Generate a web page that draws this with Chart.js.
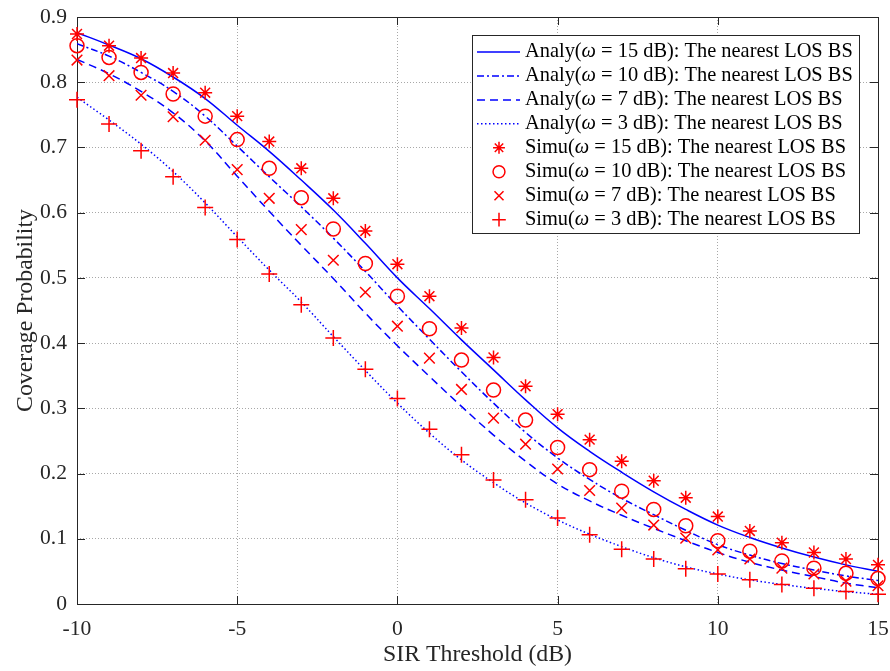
<!DOCTYPE html>
<html><head><meta charset="utf-8">
<script src="https://cdn.jsdelivr.net/npm/chart.js@4.4.0/dist/chart.umd.min.js"></script>
<style>html,body{margin:0;padding:0;background:#fff;}#wrap{width:890px;height:671px;}</style>
</head><body><div id="wrap"><canvas id="c" width="890" height="671"></canvas></div>
<script>
// ---------------- data ----------------
const sirThreshold = [-10,-9,-8,-7,-6,-5,-4,-3,-2,-1,0,1,2,3,4,5,6,7,8,9,10,11,12,13,14,15];
const analy15 = [0.876,0.857,0.836,0.808,0.775,0.734,0.694,0.650,0.604,0.553,0.500,0.453,0.405,0.359,0.313,0.270,0.234,0.202,0.172,0.145,0.121,0.102,0.086,0.072,0.060,0.050];
const analy10 = [0.859,0.840,0.815,0.786,0.748,0.702,0.655,0.609,0.561,0.510,0.457,0.406,0.356,0.308,0.263,0.224,0.191,0.162,0.137,0.113,0.091,0.075,0.062,0.052,0.043,0.036];
const analy7  = [0.835,0.813,0.786,0.753,0.710,0.656,0.602,0.550,0.499,0.446,0.396,0.349,0.303,0.259,0.219,0.184,0.158,0.136,0.116,0.097,0.079,0.064,0.052,0.042,0.032,0.025];
const analy3  = [0.777,0.742,0.705,0.663,0.615,0.563,0.512,0.463,0.410,0.358,0.308,0.262,0.221,0.186,0.155,0.129,0.107,0.088,0.071,0.057,0.046,0.037,0.030,0.024,0.019,0.015];
const simu15 = [0.874,0.856,0.837,0.814,0.784,0.748,0.709,0.668,0.622,0.572,0.521,0.472,0.423,0.378,0.334,0.291,0.252,0.219,0.189,0.163,0.134,0.112,0.094,0.079,0.069,0.060];
const simu10 = [0.856,0.838,0.815,0.782,0.748,0.712,0.668,0.623,0.575,0.522,0.472,0.422,0.374,0.328,0.282,0.240,0.206,0.173,0.145,0.120,0.097,0.081,0.066,0.055,0.047,0.039];
const simu7  = [0.834,0.810,0.780,0.747,0.711,0.666,0.622,0.574,0.527,0.478,0.426,0.377,0.329,0.285,0.245,0.207,0.174,0.147,0.121,0.101,0.083,0.069,0.055,0.046,0.035,0.028];
const simu3  = [0.773,0.736,0.695,0.655,0.608,0.559,0.506,0.459,0.408,0.360,0.315,0.268,0.229,0.190,0.160,0.132,0.106,0.084,0.069,0.054,0.046,0.037,0.030,0.024,0.019,0.015];
const xTickValues = [-10,-5,0,5,10,15];
const yTickValues = [0,0.1,0.2,0.3,0.4,0.5,0.6,0.7,0.8,0.9];
const seriesLabels = [
  'Analy(ω = 15 dB): The nearest LOS BS',
  'Analy(ω = 10 dB): The nearest LOS BS',
  'Analy(ω = 7 dB): The nearest LOS BS',
  'Analy(ω = 3 dB): The nearest LOS BS',
  'Simu(ω = 15 dB): The nearest LOS BS',
  'Simu(ω = 10 dB): The nearest LOS BS',
  'Simu(ω = 7 dB): The nearest LOS BS',
  'Simu(ω = 3 dB): The nearest LOS BS'
];
const xTitle = 'SIR Threshold (dB)';
const yTitle = 'Coverage Probability';

// ---------------- styling ----------------
const FONT = "'Liberation Serif','Times New Roman',serif";
const BLUE = '#0000ff', RED = '#ff0000', AX = '#262626';
const pts = ys => sirThreshold.map((x, i) => ({x: x, y: ys[i]}));

const mctx = document.createElement('canvas').getContext('2d');
function fitSize(text, target) { mctx.font = '100px ' + FONT; return 100 * target / mctx.measureText(text).width; }
const tickSize = Math.min(22, fitSize('0.9', 27));
const titleSize = fitSize(yTitle, 203);
const legendSize = fitSize('Analy(ω = 15 dB): The nearest LOS BS', 327);

function lineDS(label, ys, dash) {
  return {label, data: pts(ys), showLine: true, borderColor: BLUE, borderWidth: 1.5, borderDash: dash,
    pointRadius: 0, pointHoverRadius: 0, fill: false, tension: 0.4, order: 2, kind: 'line'};
}
function markDS(label, ys, style, r) {
  return {label, data: pts(ys), showLine: false, pointStyle: style, pointRadius: r, pointHoverRadius: r,
    pointBorderColor: RED, pointBackgroundColor: 'rgba(0,0,0,0)', pointBorderWidth: 1.5, clip: false, order: 1, kind: 'mark'};
}

const datasets = [
  lineDS(seriesLabels[0], analy15, []),
  lineDS(seriesLabels[1], analy10, [7,3,2,3]),
  lineDS(seriesLabels[2], analy7, [8,5]),
  lineDS(seriesLabels[3], analy3, [1.5,2.5]),
  markDS(seriesLabels[4], simu15, 'star', 7),
  markDS(seriesLabels[5], simu10, 'circle', 7),
  markDS(seriesLabels[6], simu7, 'crossRot', 7.5),
  markDS(seriesLabels[7], simu3, 'cross', 8)
];

const frameTicks = {
  id: 'frameTicks',
  beforeDatasetsDraw(chart) {
    const {ctx, chartArea: a, scales} = chart;
    ctx.save();
    ctx.strokeStyle = AX; ctx.lineWidth = 1;
    ctx.beginPath();
    const T = 8;
    xTickValues.forEach(v => {
      const x = Math.round(scales.x.getPixelForValue(v)) + 0.5;
      ctx.moveTo(x, a.bottom); ctx.lineTo(x, a.bottom - T);
      ctx.moveTo(x, a.top); ctx.lineTo(x, a.top + T);
    });
    yTickValues.forEach(v => {
      const y = Math.round(scales.y.getPixelForValue(v)) + 0.5;
      ctx.moveTo(a.left, y); ctx.lineTo(a.left + T, y);
      ctx.moveTo(a.right, y); ctx.lineTo(a.right - T, y);
    });
    ctx.stroke();
    ctx.strokeRect(Math.round(a.left) + 0.5, Math.round(a.top) + 0.5, Math.round(a.right - a.left), Math.round(a.bottom - a.top));
    ctx.restore();
  }
};

const matlabLegend = {
  id: 'matlabLegend',
  afterDraw(chart) {
    const ctx = chart.ctx;
    const bx = 472, by = 35, bw = 387, bh = 198;
    ctx.save();
    ctx.fillStyle = '#fff';
    ctx.fillRect(bx, by, bw, bh);
    ctx.strokeStyle = AX; ctx.lineWidth = 1;
    ctx.strokeRect(bx + 0.5, by + 0.5, bw, bh);
    chart.data.datasets.forEach((ds, i) => {
      const y = by + 17 + i * 23.95;
      if (ds.kind === 'line') {
        ctx.save();
        ctx.strokeStyle = ds.borderColor; ctx.lineWidth = ds.borderWidth;
        ctx.setLineDash(ds.borderDash);
        ctx.beginPath(); ctx.moveTo(477, y); ctx.lineTo(520, y); ctx.stroke();
        ctx.restore();
      } else {
        ctx.save();
        ctx.strokeStyle = ds.pointBorderColor; ctx.fillStyle = 'rgba(0,0,0,0)';
        ctx.lineWidth = ds.pointBorderWidth;
        Chart.helpers.drawPoint(ctx, {pointStyle: ds.pointStyle, rotation: 0, radius: ds.pointRadius * 0.85, borderWidth: ds.pointBorderWidth}, 499, y);
        ctx.restore();
      }
      const parts = ds.label.split('ω');
      ctx.fillStyle = '#000';
      ctx.textBaseline = 'middle'; ctx.textAlign = 'left';
      let x = 525;
      ctx.font = legendSize + 'px ' + FONT;
      ctx.fillText(parts[0], x, y); x += ctx.measureText(parts[0]).width;
      ctx.font = 'italic ' + legendSize + 'px ' + FONT;
      ctx.fillText('ω', x, y); x += ctx.measureText('ω').width;
      ctx.font = legendSize + 'px ' + FONT;
      ctx.fillText(parts[1], x, y);
    });
    ctx.restore();
  }
};

new Chart(document.getElementById('c'), {
  type: 'scatter',
  data: {datasets},
  options: {
    responsive: false, animation: false, events: [], devicePixelRatio: 1,
    layout: {padding: {left: 0, right: 12, top: 17, bottom: 0}},
    plugins: {legend: {display: false}, tooltip: {enabled: false}},
    scales: {
      x: {
        type: 'linear', min: -10, max: 15,
        afterBuildTicks: s => { s.ticks = xTickValues.map(v => ({value: v})); },
        afterFit: s => { s.height = 67; s.paddingLeft = 0; s.paddingRight = 0; },
        ticks: {color: AX, font: {family: FONT, size: tickSize}, padding: 12, callback: v => String(v), maxRotation: 0},
        grid: {color: '#a8a8a8', lineWidth: 1, drawTicks: false},
        border: {display: false, dash: [1, 2]},
        title: {display: true, text: xTitle, color: AX, font: {family: FONT, size: titleSize}, padding: {top: 0, bottom: 2}}
      },
      y: {
        type: 'linear', min: 0, max: 0.9,
        afterBuildTicks: s => { s.ticks = yTickValues.map(v => ({value: v})); },
        afterFit: s => { s.width = 77; s.paddingTop = 0; s.paddingBottom = 0; },
        ticks: {color: AX, font: {family: FONT, size: tickSize}, padding: 10, callback: v => String(Math.round(v * 10) / 10)},
        grid: {color: '#a8a8a8', lineWidth: 1, drawTicks: false},
        border: {display: false, dash: [1, 2]},
        title: {display: true, text: yTitle, color: AX, font: {family: FONT, size: titleSize}, padding: {top: 11, bottom: 0}}
      }
    }
  },
  plugins: [frameTicks, matlabLegend]
});
</script>
</body></html>
